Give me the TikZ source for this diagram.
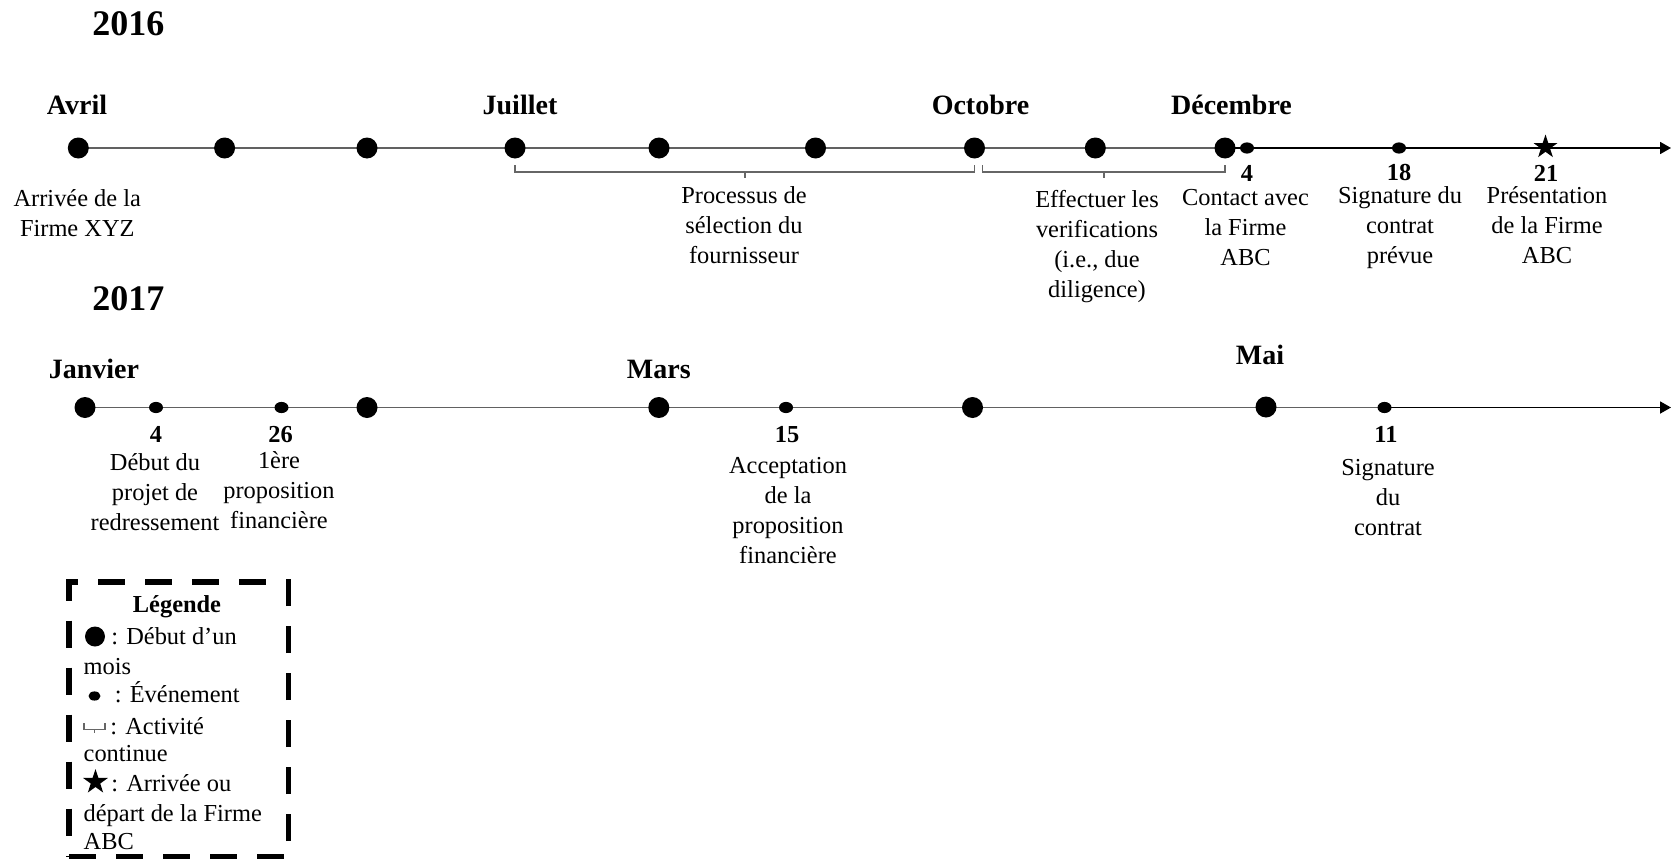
\documentclass[tikz,border=0pt]{standalone}
\usepackage{fontspec}
\setmainfont{Liberation Serif}
\usetikzlibrary{shapes.geometric,arrows.meta,calc,backgrounds}

\begin{document}
\begin{tikzpicture}[x=0.5pt,y=-0.5pt,
  txt/.style={font=\fontsize{12.2}{15}\selectfont, inner sep=0pt, align=center},
  lbl/.style={txt, anchor=north},
  num/.style={font=\fontsize{12.2}{15}\selectfont\bfseries, inner sep=0pt},
  month/.style={font=\fontsize{14}{17}\selectfont\bfseries, inner sep=0pt},
  year/.style={font=\fontsize{18}{22}\selectfont\bfseries, inner sep=0pt},
  bigdot/.style={circle, fill=black, minimum size=10.5pt, inner sep=0pt},
  smalldot/.style={ellipse, fill=black, minimum width=7pt, minimum height=5.6pt, inner sep=0pt},
  firmstar/.style={star, star points=5, star point ratio=2.6, fill=black, minimum size=12.5pt, inner sep=0pt},
  axis/.style={draw=black!62, line width=0.9pt},
  axisarrow/.style={draw=black, line width=0.9pt, -{Triangle[length=5.5pt,width=6pt]}},
  brk/.style={draw=black!60, line width=0.75pt},
  legline/.style={font=\fontsize{12.2}{15}\selectfont, inner sep=0pt, anchor=west, text height=8pt, text depth=0pt},
  legbox/.style={draw=black, line width=2.7pt, dash pattern=on 13.5pt off 10pt, minimum width=109.75pt, minimum height=137.25pt, inner sep=0pt},
]
\useasboundingbox (0,0) rectangle (1677,862);

% ---------- 2016 ----------
\node[year] (y16) at (128.3,23.5) {2016};

\node[bigdot] (avr) at (78.3,148) {};
\node[bigdot] (mai16) at (224.6,148) {};
\node[bigdot] (jun16) at (367,148) {};
\node[bigdot] (jul) at (515,148) {};
\node[bigdot] (aou) at (659,148) {};
\node[bigdot] (sep) at (815.5,148) {};
\node[bigdot] (oct) at (974.5,148) {};
\node[bigdot] (nov) at (1095.3,148) {};
\node[bigdot] (dec) at (1225,148) {};
\node[smalldot] (e4) at (1247,148) {};
\node[smalldot] (e18) at (1399,148) {};
\node[firmstar] (e21) at (1545.5,147) {};
\coordinate (end1) at (1671,148);

\begin{scope}[on background layer]
  \draw[axis] (avr.center) -- (dec.center);
  \draw[axisarrow] (dec.center) -- (end1);
\end{scope}

\node[month] (lavr) at (77,104.8) {Avril};
\node[month] (ljul) at (520,104.8) {Juillet};
\node[month] (loct) at (980.5,104.8) {Octobre};
\node[month] (ldec) at (1231.5,104.8) {Décembre};

% continuous activities
\draw[brk] ($(jul.center)+(0,17)$) -- ($(jul.center)+(0,24)$) -- ($(oct.center)+(0,24)$) -- ($(oct.center)+(0,17)$);
\draw[brk] ($(jul.center)!0.5!(oct.center)+(0,24)$) -- ++(0,5.5);
\draw[brk] ($(oct.center)+(8,17)$) -- ($(oct.center)+(8,24)$) -- ($(dec.center)+(0,24)$) -- ($(dec.center)+(0,17)$);
\draw[brk] ($(oct.center)!0.5!(dec.center)+(4,24)$) -- ++(0,5.5);

\node[lbl] (tavr) at (77.3,189.2) {Arrivée de la\\Firme XYZ};
\node[lbl] (tsel) at (744,186) {Processus de\\sélection du\\fournisseur};
\node[lbl] (tver) at (1097,190.2) {Effectuer les\\verifications\\(i.e., due\\diligence)};
\node[num] (n4) at (1247,173.5) {4};
\node[lbl] (tcon) at (1245.5,189.2) {Contact avec\\la Firme\\ABC};
\node[num] (n18) at (1399,172.5) {18};
\node[lbl] (tsig) at (1400,186.5) {Signature du\\contrat\\prévue};
\node[num] (n21) at (1546,173.5) {21};
\node[lbl] (tpre) at (1547,186.5) {Présentation\\de la Firme\\ABC};

% ---------- 2017 ----------
\node[year] (y17) at (128.3,298.4) {2017};

\node[bigdot] (jan) at (85,407.5) {};
\node[smalldot] (f4) at (156,407.5) {};
\node[smalldot] (f26) at (281.5,407.5) {};
\node[bigdot] (fev) at (367,407.5) {};
\node[bigdot] (mar) at (658.8,407.5) {};
\node[smalldot] (f15) at (786,407.5) {};
\node[bigdot] (avr17) at (972.5,407.5) {};
\node[bigdot] (mai17) at (1266,407) {};
\node[smalldot] (f11) at (1384.5,407.5) {};
\coordinate (end2) at (1671,407.5);

\begin{scope}[on background layer]
  \draw[axis] (jan.center) -- (f11.center);
  \draw[axisarrow] (f11.center) -- (end2);
\end{scope}

\node[month] (ljan) at (94,369) {Janvier};
\node[month] (lmar) at (658.8,369) {Mars};
\node[month] (lmai) at (1260,355) {Mai};

\node[num] (m4) at (156,434.5) {4};
\node[num] (m26) at (280.5,434.5) {26};
\node[num] (m15) at (787,434.5) {15};
\node[num] (m11) at (1386,434) {11};
\node[lbl] (tdeb) at (155,453.3) {Début du\\projet de\\redressement};
\node[lbl] (tpro) at (279,451.2) {1ère\\proposition\\financière};
\node[lbl] (tacc) at (788,456.5) {Acceptation\\de la\\proposition\\financière};
\node[lbl] (tsig2) at (1388,458.7) {Signature\\du\\contrat};

% ---------- legend ----------
\node[legbox] (leg) at (178.75,719.25) {};
\node[txt, font=\fontsize{12.2}{15}\selectfont\bfseries] (lgt) at (177,607) {Légende};
\node[bigdot, minimum size=10pt] (lg1) at (95,636.5) {};
\node[legline] (lt1) at (111,636.7) {: Début d’un};
\node[legline] (lt1b) at (83.3,666.7) {mois};
\node[smalldot, minimum width=6pt, minimum height=4.6pt] (lg2) at (94.5,696) {};
\node[legline] (lt2) at (114.5,694) {: Événement};
\coordinate (lb1) at (84,723);
\coordinate (lb2) at (105,723);
\draw[brk] (lb1) -- ($(lb1)+(0,6.5)$) -- ($(lb2)+(0,6.5)$) -- (lb2);
\draw[brk] ($(lb1)!0.5!(lb2)+(0,6.5)$) -- ++(0,3.5);
\node[legline] (lt3) at (110,726.7) {: Activité};
\node[legline] (lt3b) at (83.3,753.3) {continue};
\node[firmstar, minimum size=13pt] (lg4) at (95.5,782) {};
\node[legline] (lt4) at (111,783.3) {: Arrivée ou};
\node[legline] (lt4b) at (83.3,813.3) {départ de la Firme};
\node[legline] (lt4c) at (83.3,841.7) {ABC};
\end{tikzpicture}
\end{document}
